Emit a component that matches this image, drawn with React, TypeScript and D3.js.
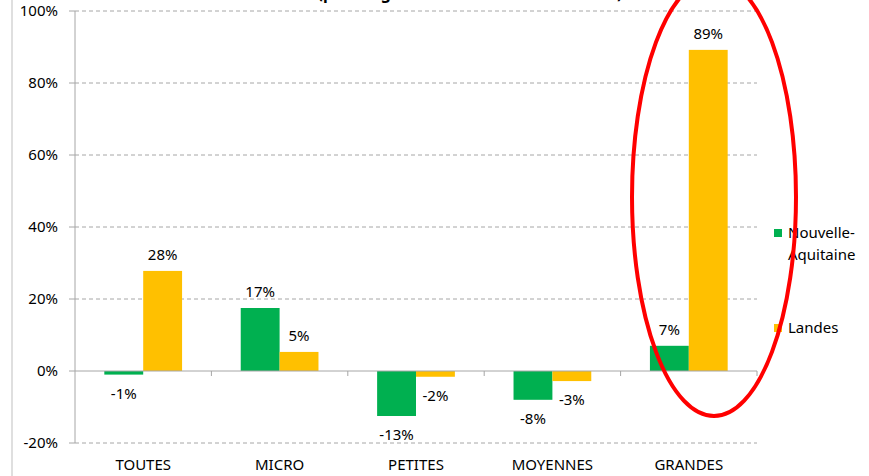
import React from "react";
import * as d3 from "d3";

const categories = ["TOUTES", "MICRO", "PETITES", "MOYENNES", "GRANDES"];
const nouvelleAquitaine = [-1, 17.5, -12.5, -8, 7];
const landes = [27.8, 5.3, -1.6, -2.8, 89.2];
const valueLabels = [
	["-1%", "17%", "-13%", "-8%", "7%"],
	["28%", "5%", "-2%", "-3%", "89%"],
];
const yTicks = [-20, 0, 20, 40, 60, 80, 100];
const seriesNames = ["Nouvelle-Aquitaine", "Landes"];
const colors = ["#00b050", "#ffc000"];

const W = 869;
const H = 476;
const margin = { top: 11, right: 112, bottom: 33, left: 75 };
const font = "'Noto Sans', sans-serif";
const fs = 15;

export default function App() {
	const x = d3
		.scaleBand()
		.domain(categories)
		.range([margin.left, W - margin.right]);

	const y = d3
		.scaleLinear()
		.domain([-20, 100])
		.range([H - margin.bottom, margin.top]);

	const groupW = x.bandwidth() * 0.57;
	const inner = d3
		.scaleBand()
		.domain(["0", "1"])
		.range([0, groupW]);

	const series = [nouvelleAquitaine, landes];
	const y0 = y(0);

	return (
		<svg width={W} height={H} style={{ position: "absolute", left: 0, top: 0, fontFamily: font }}>
			<rect width={W} height={H} fill="#fff" />
			<line x1={12} x2={12} y1={0} y2={H} stroke="#bfbfbf" strokeWidth={1} />
			<text x={470} y={-1} textAnchor="middle" fontWeight="bold" fontSize={16} fill="#000">
				(par rang de taille des établissements)
			</text>

			{yTicks.map((t) => (
				<g key={t}>
					{t !== 0 && (
						<line
							x1={margin.left}
							x2={W - margin.right}
							y1={y(t)}
							y2={y(t)}
							stroke="#a6a6a6"
							strokeDasharray="4,3"
						/>
					)}
					<line x1={margin.left - 6} x2={margin.left} y1={y(t)} y2={y(t)} stroke="#a6a6a6" />
					<text x={58} y={y(t)} dy="0.35em" textAnchor="end" fontSize={fs} fill="#000">
						{t}%
					</text>
				</g>
			))}

			{series.map((vals, si) =>
				vals.map((v, ci) => {
					const cx = x(categories[ci])! + (x.bandwidth() - groupW) / 2 + inner(String(si))!;
					const top = Math.min(y(v), y0);
					const h = Math.abs(y(v) - y0);
					const mid = cx + inner.bandwidth() / 2;
					const ly = v >= 0 ? y(v) - 11 : y(v) + 24;
					return (
						<g key={`${si}-${ci}`}>
							<rect x={cx} y={top} width={inner.bandwidth()} height={h} fill={colors[si]} />
							<text x={mid} y={ly} textAnchor="middle" fontSize={fs} fill="#000">
								{valueLabels[si][ci]}
							</text>
						</g>
					);
				}),
			)}

			<line x1={margin.left} x2={margin.left} y1={y(100)} y2={y(-20)} stroke="#a6a6a6" />
			<line x1={margin.left} x2={W - margin.right} y1={y0} y2={y0} stroke="#a6a6a6" />
			{categories.map((c) => (
				<line
					key={c}
					x1={x(c)! + x.bandwidth()}
					x2={x(c)! + x.bandwidth()}
					y1={y0}
					y2={y0 + 5}
					stroke="#a6a6a6"
				/>
			))}
			{categories.map((c) => (
				<text
					key={c}
					x={x(c)! + x.bandwidth() / 2}
					y={465}
					dy="0.35em"
					textAnchor="middle"
					fontSize={fs}
					fill="#000"
				>
					{c}
				</text>
			))}

			<g fontSize={fs} fill="#000">
				<rect x={774} y={229} width={8} height={8} fill={colors[0]} />
				<text x={788} y={233} dy="0.35em">
					Nouvelle-
				</text>
				<text x={788} y={255} dy="0.35em">
					Aquitaine
				</text>
				<rect x={774} y={324} width={8} height={8} fill={colors[1]} />
				<text x={788} y={328} dy="0.35em">
					{seriesNames[1]}
				</text>
			</g>

			<ellipse cx={714} cy={197} rx={82} ry={219} fill="none" stroke="#ff0000" strokeWidth={4} />
		</svg>
	);
}
